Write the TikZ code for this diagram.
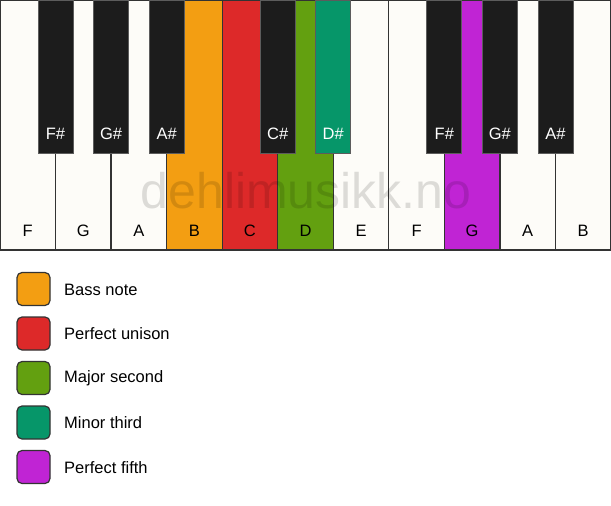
\documentclass[tikz,border=0pt]{standalone}
\usepackage{fontspec}
\setmainfont{Liberation Sans}
\usepackage{tikz}

\definecolor{keywhite}{HTML}{FDFCF8}
\definecolor{keyblack}{HTML}{1C1C1C}
\definecolor{keyedge}{HTML}{333333}
\definecolor{bassorange}{HTML}{F39E12}
\definecolor{unisonred}{HTML}{DD2929}
\definecolor{secondgreen}{HTML}{63A010}
\definecolor{thirdteal}{HTML}{069669}
\definecolor{fifthpurple}{HTML}{C024D4}

\tikzset{
  whitekey/.style={draw=keyedge, line width=1.3pt},
  blackkey/.style={draw=keyedge!80, line width=0.8pt},
  keylabel/.style={font=\fontsize{16.5}{16.5}\selectfont, text=black},
  sharplabel/.style={font=\fontsize{16.5}{16.5}\selectfont, text=white},
  legendbox/.style={draw=keyedge, line width=1.2pt, rounded corners=5pt,
    minimum width=33pt, minimum height=33pt, inner sep=0pt},
  legendtext/.style={font=\fontsize{16.5}{16.5}\selectfont, anchor=west, inner sep=0pt}
}

\begin{document}
\begin{tikzpicture}[x=1pt, y=-1pt]
  \useasboundingbox (0,0) rectangle (611,506);
  \fill[white] (0,0) rectangle (611,506);

  % white keys
  \foreach \i/\n/\c in {0/F/keywhite, 1/G/keywhite, 2/A/keywhite, 3/B/bassorange,
      4/C/unisonred, 5/D/secondgreen, 6/E/keywhite, 7/F/keywhite,
      8/G/fifthpurple, 9/A/keywhite, 10/B/keywhite}{
    \draw[whitekey, fill=\c] (\i*55.545,0) rectangle ++(55.545,250);
    \node[keylabel] (w\i) at (\i*55.545+27.77,231) {\n};
  }

  % black keys
  \foreach \i/\n/\c in {1/F\#/keyblack, 2/G\#/keyblack, 3/A\#/keyblack,
      5/C\#/keyblack, 6/D\#/thirdteal, 8/F\#/keyblack, 9/G\#/keyblack,
      10/A\#/keyblack}{
    \draw[blackkey, fill=\c] (\i*55.545-17.5,0) rectangle ++(35,153);
    \node[sharplabel] (b\i) at (\i*55.545,133.5) {\n};
  }

  % watermark
  \node[font=\fontsize{50}{50}\selectfont, text=black, text opacity=0.13,
    anchor=base, inner sep=0pt] (mark) at (306,208) {dehlimusikk.no};

  % legend
  \node[legendbox, fill=bassorange] (bass) at (33.5,289) {};
  \node[legendbox, fill=unisonred] (unison) at (33.5,333.5) {};
  \node[legendbox, fill=secondgreen] (second) at (33.5,378) {};
  \node[legendbox, fill=thirdteal] (third) at (33.5,422.5) {};
  \node[legendbox, fill=fifthpurple] (fifth) at (33.5,467) {};
  \node[legendtext] (basstext) at (64,289.5) {Bass note};
  \node[legendtext] (unisontext) at (64,334) {Perfect unison};
  \node[legendtext] (secondtext) at (64,378.5) {Major second};
  \node[legendtext] (thirdtext) at (64,423) {Minor third};
  \node[legendtext] (fifthtext) at (64,467.5) {Perfect fifth};
\end{tikzpicture}
\end{document}
